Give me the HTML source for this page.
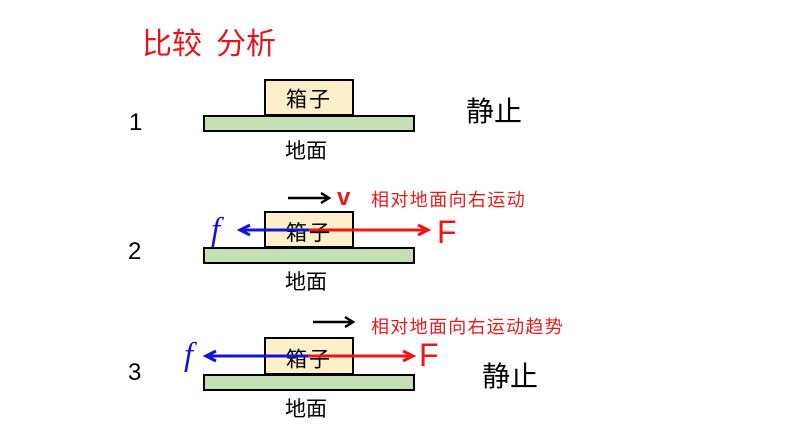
<!DOCTYPE html>
<html>
<head>
<meta charset="utf-8">
<style>
  html, body { margin:0; padding:0; background:#ffffff; }
  body { width:794px; height:447px; overflow:hidden; }
  svg { display:block; }
  .cjk { font-family: "Liberation Sans", "Noto Sans CJK SC", sans-serif; }
  .lat { font-family: "Liberation Sans", sans-serif; }
</style>
</head>
<body>
<svg width="794" height="447" viewBox="0 0 794 447" xmlns="http://www.w3.org/2000/svg">
  <rect x="0" y="0" width="794" height="447" fill="#ffffff"/>

  <!-- Title -->
  <text class="cjk" x="142" y="54" font-size="30" fill="#e3161d">比较</text>
  <text class="cjk" x="216" y="54" font-size="30" fill="#e3161d">分析</text>

  <!-- Row numbers -->
  <text class="lat" x="129" y="130" font-size="24" fill="#000">1</text>
  <text class="lat" x="128" y="259" font-size="24" fill="#000">2</text>
  <text class="lat" x="128" y="380" font-size="24" fill="#000">3</text>

  <!-- Scene 1 -->
  <rect x="265" y="80" width="88" height="35" fill="#fdefca" stroke="#000" stroke-width="2"/>
  <rect x="204" y="116" width="210" height="15" fill="#c5dfb4" stroke="#000" stroke-width="2"/>
  <text class="cjk" x="309" y="106.5" font-size="21" fill="#000" text-anchor="middle" letter-spacing="2">箱子</text>
  <text class="cjk" x="306" y="158" font-size="21" fill="#000" text-anchor="middle">地面</text>
  <text class="cjk" x="466" y="121" font-size="28" fill="#000">静止</text>

  <!-- Scene 2 -->
  <rect x="265" y="212" width="88" height="35" fill="#fdefca" stroke="#000" stroke-width="2"/>
  <rect x="204" y="248" width="210" height="15" fill="#c5dfb4" stroke="#000" stroke-width="2"/>
  <text class="cjk" x="309" y="240" font-size="21" fill="#000" text-anchor="middle" letter-spacing="2">箱子</text>
  <text class="cjk" x="306" y="289" font-size="21" fill="#000" text-anchor="middle">地面</text>

  <!-- velocity arrow 2 -->
  <line x1="288" y1="198" x2="329" y2="198" stroke="#000" stroke-width="2.5"/>
  <polyline points="321,193 329,198 321,203" fill="none" stroke="#000" stroke-width="2.5"/>
  <text class="lat" x="337" y="205" font-size="24" font-weight="bold" fill="#e31b1b">v</text>
  <text class="cjk" x="371" y="206" font-size="18" fill="#e31b1b" letter-spacing="1.4">相对地面向右运动</text>

  <!-- forces 2 -->
  <line x1="310" y1="230" x2="241" y2="230" stroke="#1414d8" stroke-width="3"/>
  <polyline points="250,225 240,230 250,235" fill="none" stroke="#1414d8" stroke-width="3"/>
  <line x1="309" y1="230" x2="426" y2="230" stroke="#f01414" stroke-width="3"/>
  <polyline points="418,225 428,230 418,235" fill="none" stroke="#f01414" stroke-width="3"/>
  <text x="211" y="240" font-size="33" font-style="italic" fill="#1414d8" font-family="'Liberation Serif', serif">f</text>
  <text class="lat" x="437" y="243" font-size="32" fill="#f01414">F</text>

  <!-- Scene 3 -->
  <rect x="265" y="338" width="88" height="36" fill="#fdefca" stroke="#000" stroke-width="2"/>
  <rect x="204" y="375" width="210" height="15" fill="#c5dfb4" stroke="#000" stroke-width="2"/>
  <text class="cjk" x="309" y="366.5" font-size="21" fill="#000" text-anchor="middle" letter-spacing="2">箱子</text>
  <text class="cjk" x="306" y="416" font-size="21" fill="#000" text-anchor="middle">地面</text>
  <text class="cjk" x="482" y="386" font-size="28" fill="#000">静止</text>

  <!-- tendency arrow 3 -->
  <line x1="313" y1="322" x2="353" y2="322" stroke="#000" stroke-width="2.5"/>
  <polyline points="345,317 353,322 345,327" fill="none" stroke="#000" stroke-width="2.5"/>
  <text class="cjk" x="371" y="333" font-size="18" fill="#e31b1b" letter-spacing="1.3">相对地面向右运动趋势</text>

  <!-- forces 3 -->
  <line x1="309" y1="356" x2="208" y2="356" stroke="#1414d8" stroke-width="3"/>
  <polyline points="216,351 206,356 216,361" fill="none" stroke="#1414d8" stroke-width="3"/>
  <line x1="308" y1="356" x2="411" y2="356" stroke="#f01414" stroke-width="3"/>
  <polyline points="403,351 413,356 403,361" fill="none" stroke="#f01414" stroke-width="3"/>
  <text x="184" y="365" font-size="33" font-style="italic" fill="#1414d8" font-family="'Liberation Serif', serif">f</text>
  <text class="lat" x="419" y="366" font-size="32" fill="#f01414">F</text>
</svg>
</body>
</html>
